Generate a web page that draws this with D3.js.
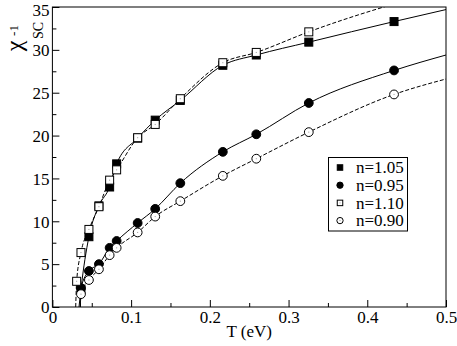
<!DOCTYPE html>
<html><head><meta charset="utf-8">
<script src="https://cdn.jsdelivr.net/npm/d3@7"></script>
<style>
body{margin:0;background:#fff;}
</style></head>
<body><svg id="c" width="457" height="346"></svg>
<script>
// ---- data ----
const T = [0.0308, 0.0363, 0.0464, 0.0591, 0.0727, 0.0816, 0.1083, 0.1306, 0.1625, 0.2165, 0.259, 0.3257, 0.434];
const n105 = [null, 2.1, 8.2, 11.8, 14.0, 16.7, 19.7, 21.8, 24.1, 28.2, 29.4, 30.9, 33.3];
const n095 = [null, 2.2, 4.2, 5.0, 6.9, 7.7, 9.8, 11.45, 14.45, 18.1, 20.15, 23.8, 27.6];
const n110 = [3.0, 6.35, 9.05, 11.7, 14.8, 16.0, 19.75, 21.3, 24.3, 28.5, 29.7, 32.1, null];
const n090 = [null, 1.5, 3.15, 4.4, 6.05, 6.9, 8.7, 10.55, 12.35, 15.3, 17.3, 20.4, 24.8];
// curve ends (T where curve meets 0, value at T=0.5)
const curveStartT = [0.0338, 0.0355, 0.0296, 0.0355];
const curveEndV = [34.7, 29.4, 37.1, 26.6];
const seriesNames = ["n=1.05", "n=0.95", "n=1.10", "n=0.90"];
const xTicks = [0, 0.1, 0.2, 0.3, 0.4, 0.5];
const xTickLabels = ["0", "0.1", "0.2", "0.3", "0.4", "0.5"];
const yTicks = [0, 5, 10, 15, 20, 25, 30, 35];
const xMinor = [0.05, 0.15, 0.25, 0.35, 0.45];
const yMinor = [2.5, 7.5, 12.5, 17.5, 22.5, 27.5, 32.5];

const seriesValues = [n105, n095, n110, n090];
const seriesStyle = [
  {shape: "square", fill: "#000", dash: null},
  {shape: "circle", fill: "#000", dash: null},
  {shape: "square", fill: "#fff", dash: "4,2"},
  {shape: "circle", fill: "#fff", dash: "4,2"}
];

const FONT = "Liberation Serif";
const svg = d3.select("#c").style("font-family", FONT);
const x = d3.scaleLinear().domain([0, 0.5]).range([52.4, 446]);
const y = d3.scaleLinear().domain([0, 35]).range([307, 7]);

svg.append("defs").append("clipPath").attr("id", "clip")
  .append("rect").attr("x", x(0)).attr("y", y(35)).attr("width", x(0.5) - x(0)).attr("height", y(0) - y(35));

// axes
const fs = 17;
const gx = svg.append("g").attr("transform", `translate(0,${y(0)})`)
  .call(d3.axisBottom(x).tickValues(xTicks).tickFormat((d, i) => xTickLabels[i]).tickSize(-7).tickPadding(4));
gx.select(".domain").remove();
gx.selectAll("text").attr("font-size", fs).style("font-family", FONT).attr("dy", "0.71em");
const gxm = svg.append("g").attr("transform", `translate(0,${y(0)})`)
  .call(d3.axisBottom(x).tickValues(xMinor).tickFormat("").tickSize(-4));
gxm.select(".domain").remove();

const gy = svg.append("g").attr("transform", `translate(${x(0)},0)`)
  .call(d3.axisLeft(y).tickValues(yTicks).tickSize(-7).tickPadding(3));
gy.select(".domain").remove();
gy.selectAll("text").attr("font-size", fs).style("font-family", FONT)
  .attr("dy", d => d === 35 ? "0.5em" : "0.34em");
const gym = svg.append("g").attr("transform", `translate(${x(0)},0)`)
  .call(d3.axisLeft(y).tickValues(yMinor).tickFormat("").tickSize(-4));
gym.select(".domain").remove();
svg.selectAll(".tick line").attr("stroke", "#000");

// frame
svg.append("rect").attr("x", x(0)).attr("y", y(35)).attr("width", x(0.5) - x(0)).attr("height", y(0) - y(35))
  .attr("fill", "none").attr("stroke", "#000").attr("stroke-width", 1);

// axis titles
svg.append("text").attr("x", (x(0) + x(0.5)) / 2).attr("y", 337).attr("text-anchor", "middle")
  .attr("font-size", fs).style("font-family", FONT).text("T (eV)");
const yl = svg.append("g").style("font-family", FONT);
yl.append("text").attr("transform", "translate(22,46) rotate(-90)").attr("text-anchor", "middle")
  .attr("font-size", 24).text("χ");
yl.append("text").attr("transform", "translate(43,30.5) rotate(-90)").attr("text-anchor", "middle")
  .attr("font-size", 14).text("SC");
yl.append("text").attr("transform", "translate(17.5,30.5) rotate(-90)").attr("text-anchor", "middle")
  .attr("font-size", 13).text("-1");

// series
const plot = svg.append("g").attr("clip-path", "url(#clip)");
const line = d3.line().x(d => x(d[0])).y(d => y(d[1])).curve(d3.curveMonotoneX);

seriesValues.forEach((vals, si) => {
  const pts = T.map((t, i) => [t, vals[i]]).filter(d => d[1] != null);
  const curvePts = [[curveStartT[si], 0], ...pts, [0.5, curveEndV[si]]];
  plot.append("path").attr("d", line(curvePts)).attr("fill", "none").attr("stroke", "#000")
    .attr("stroke-width", 1).attr("stroke-dasharray", seriesStyle[si].dash);
});

function drawMarker(g, shape, fill, cx, cy, size) {
  if (shape === "square") {
    g.append("rect").attr("x", cx - size / 2).attr("y", cy - size / 2).attr("width", size).attr("height", size)
      .attr("fill", fill).attr("stroke", "#000").attr("stroke-width", 1);
  } else {
    g.append("circle").attr("cx", cx).attr("cy", cy).attr("r", size / 2 + 0.4)
      .attr("fill", fill).attr("stroke", "#000").attr("stroke-width", 1);
  }
  if (fill === "#fff") {
    g.append("rect").attr("x", cx - 0.5).attr("y", cy - 0.5).attr("width", 1).attr("height", 1).attr("fill", "#999");
  }
}

seriesValues.forEach((vals, si) => {
  const st = seriesStyle[si];
  T.forEach((t, i) => {
    if (vals[i] == null) return;
    drawMarker(plot, st.shape, st.fill, x(t), y(vals[i]), 8);
  });
});

// legend
const lg = svg.append("g").style("font-family", FONT);
lg.append("rect").attr("x", 328.5).attr("y", 157.5).attr("width", 79).attr("height", 73.5)
  .attr("fill", "#fff").attr("stroke", "#000").attr("stroke-width", 1);
seriesNames.forEach((nm, si) => {
  const cy = 167.5 + si * 17.7;
  drawMarker(lg, seriesStyle[si].shape, seriesStyle[si].fill, 340, cy, 5.5);
  lg.append("text").attr("x", 356).attr("y", cy + 5.8).attr("font-size", fs).text(nm);
});
</script></body></html>
